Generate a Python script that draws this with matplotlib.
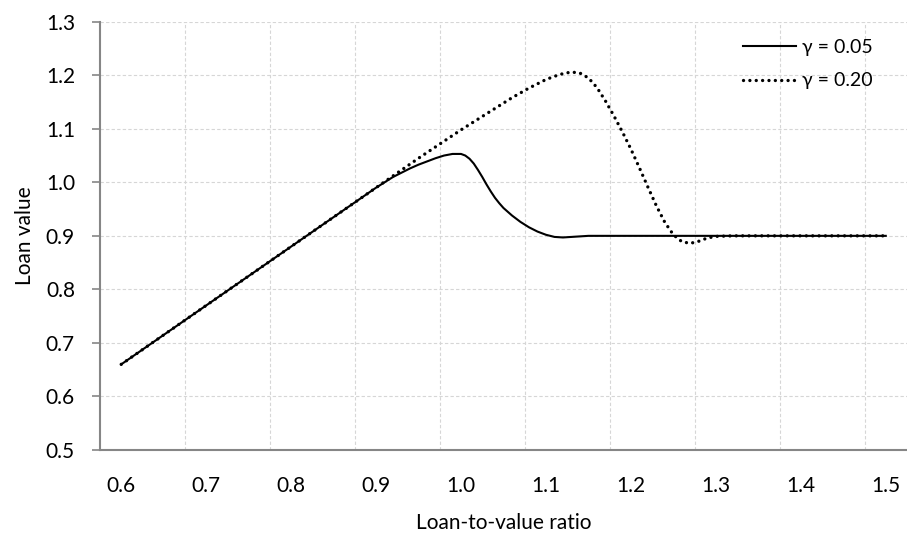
import matplotlib
matplotlib.use('Agg')
import matplotlib.pyplot as plt
from matplotlib.ticker import FixedLocator

# ── Data ─────────────────────────────────────────────────────────────────────

x_low = [0.60, 0.90, 0.92, 0.93, 0.94, 0.95, 0.96, 0.97, 0.98, 0.99, 1.00,
         1.005, 1.01, 1.015, 1.02, 1.025, 1.03, 1.035, 1.04, 1.045, 1.05,
         1.06, 1.07, 1.08, 1.09, 1.10, 1.11, 1.12, 1.13, 1.14, 1.15, 1.20,
         1.30, 1.40, 1.50]
y_low = [0.660, 0.990, 1.010, 1.018, 1.026, 1.033, 1.039, 1.045, 1.050,
         1.053, 1.053, 1.050, 1.044, 1.035, 1.023, 1.010, 0.996, 0.983,
         0.971, 0.961, 0.952, 0.938, 0.926, 0.916, 0.908, 0.902, 0.898,
         0.897, 0.898, 0.899, 0.900, 0.900, 0.900, 0.900, 0.900]

x_high = [0.60, 0.95, 1.00, 1.03, 1.06, 1.08, 1.10, 1.11, 1.12, 1.13, 1.14,
          1.15, 1.16, 1.17, 1.18, 1.19, 1.20, 1.21, 1.22, 1.23, 1.24, 1.25,
          1.26, 1.27, 1.28, 1.29, 1.30, 1.32, 1.40, 1.50]
y_high = [0.660, 1.045, 1.098, 1.128, 1.158, 1.176, 1.192, 1.198, 1.203,
          1.206, 1.204, 1.195, 1.177, 1.152, 1.124, 1.094, 1.062, 1.027,
          0.991, 0.956, 0.925, 0.902, 0.889, 0.886, 0.890, 0.896, 0.899,
          0.900, 0.900, 0.900]

labels = ['γ = 0.05', 'γ = 0.20']
x_ticks = [0.6, 0.7, 0.8, 0.9, 1.0, 1.1, 1.2, 1.3, 1.4, 1.5]
x_grid = [0.675, 0.775, 0.875, 0.975, 1.075, 1.175, 1.275, 1.375, 1.475]
y_ticks = [0.5, 0.6, 0.7, 0.8, 0.9, 1.0, 1.1, 1.2, 1.3]

# ── Style ─────────────────────────────────────────────────────────────────────

AXIS_COLOR = '#868686'
GRID_COLOR = '#d6d6d6'
TEXT_COLOR = '#000000'

plt.rcParams['font.family'] = ['Lato', 'DejaVu Sans']
plt.rcParams['font.size'] = 15

fig = plt.figure(figsize=(9.07, 5.34), dpi=100)
ax = fig.add_axes([100 / 907, 84 / 534, 807 / 907, 428.3 / 534])

ax.plot(x_low, y_low, color='black', linewidth=1.5, label=labels[0], zorder=3)
ax.plot(x_high, y_high, color='black', linewidth=2.4,
        linestyle=(0, (0.01, 1.9)), dash_capstyle='round',
        label=labels[1], zorder=4)

ax.set_xlim(0.575, 1.525)
ax.set_ylim(0.5, 1.3)

ax.xaxis.set_major_locator(FixedLocator(x_ticks))
ax.xaxis.set_minor_locator(FixedLocator(x_grid))
ax.set_xticklabels([f'{v:.1f}' for v in x_ticks])
ax.set_yticks(y_ticks)
ax.set_yticklabels([f'{v:.1f}' for v in y_ticks])

ax.grid(False)
ax.grid(True, which='minor', axis='x', color=GRID_COLOR, linewidth=0.8,
        linestyle=(0, (3, 2)), zorder=1)
ax.grid(True, which='major', axis='y', color=GRID_COLOR, linewidth=0.8,
        linestyle=(0, (3, 2)), zorder=1)

for side in ['top', 'right']:
    ax.spines[side].set_visible(False)
for side in ['left', 'bottom']:
    ax.spines[side].set_color(AXIS_COLOR)
    ax.spines[side].set_linewidth(1.5)

ax.tick_params(axis='x', which='both', length=0, pad=19, colors=TEXT_COLOR)
ax.tick_params(axis='y', which='major', length=6, width=1.2, direction='out',
               color=AXIS_COLOR, labelcolor=TEXT_COLOR, pad=12)

ax.set_xlabel('Loan-to-value ratio', labelpad=12)
ax.set_ylabel('Loan value', labelpad=8)

ax.legend(loc='upper left', bbox_to_anchor=(0.797, 0.96), frameon=False,
          handlelength=2.7, handletextpad=0.3, labelspacing=0.85,
          borderpad=0, borderaxespad=0, fontsize=14)

fig.savefig('out.png', dpi=100)
